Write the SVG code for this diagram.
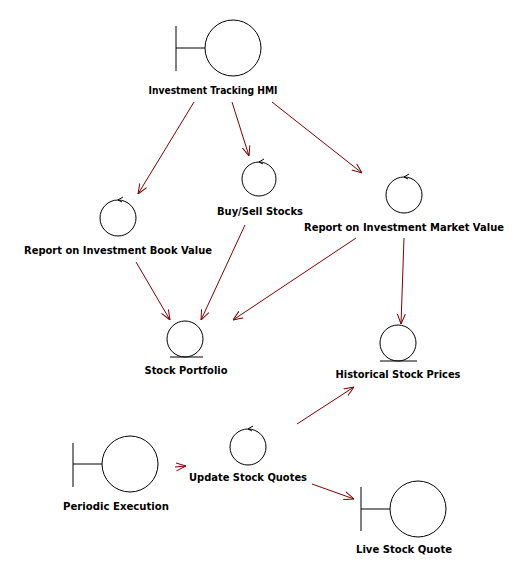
<svg xmlns="http://www.w3.org/2000/svg" width="529" height="582" viewBox="0 0 529 582">
<defs>
<style>
.sym{fill:none;stroke:#000;stroke-width:1}
.lbl{font-family:"DejaVu Sans","Liberation Sans",sans-serif;font-weight:bold;font-size:11px;fill:#000;text-anchor:middle}
.con{fill:none;stroke:#800000;stroke-width:1}
</style>
<marker id="arr" viewBox="0 0 10 10" refX="10" refY="5" markerWidth="10" markerHeight="10" markerUnits="userSpaceOnUse" orient="auto">
<path d="M0,1 L10,5 L0,9" fill="none" stroke="#800000" stroke-width="1"/>
</marker>
</defs>
<rect width="529" height="582" fill="#fff"/>
<g id="hmi">
<line class="sym" x1="176" y1="26" x2="176" y2="71"/>
<line class="sym" x1="176" y1="48" x2="205" y2="48"/>
<circle class="sym" cx="233" cy="48" r="28"/>
<text class="lbl" x="213" y="94" textLength="129" lengthAdjust="spacingAndGlyphs">Investment Tracking HMI</text>
</g>
<g id="bookvalue">
<circle class="sym" cx="118" cy="218" r="18"/>
<path class="sym" d="M123,197 L118,200 L122,202"/>
<text class="lbl" x="118" y="254" textLength="188" lengthAdjust="spacingAndGlyphs">Report on Investment Book Value</text>
</g>
<g id="buysell">
<circle class="sym" cx="259" cy="179" r="17"/>
<path class="sym" d="M264,159 L259,162 L263,164"/>
<text class="lbl" x="260" y="215" textLength="86" lengthAdjust="spacingAndGlyphs">Buy/Sell Stocks</text>
</g>
<g id="marketvalue">
<circle class="sym" cx="404" cy="195" r="18"/>
<path class="sym" d="M409,174 L404,177 L408,179"/>
<text class="lbl" x="404" y="231" textLength="200" lengthAdjust="spacingAndGlyphs">Report on Investment Market Value</text>
</g>
<g id="portfolio">
<circle class="sym" cx="185" cy="339" r="18"/>
<line class="sym" x1="170" y1="357" x2="203" y2="357"/>
<text class="lbl" x="186" y="374" textLength="83" lengthAdjust="spacingAndGlyphs">Stock Portfolio</text>
</g>
<g id="historical">
<circle class="sym" cx="398" cy="343" r="18"/>
<line class="sym" x1="380" y1="361" x2="417" y2="361"/>
<text class="lbl" x="398" y="378" textLength="125" lengthAdjust="spacingAndGlyphs">Historical Stock Prices</text>
</g>
<g id="update">
<circle class="sym" cx="248" cy="447" r="18"/>
<path class="sym" d="M253,426 L248,429 L252,431"/>
<text class="lbl" x="248" y="481" textLength="118" lengthAdjust="spacingAndGlyphs">Update Stock Quotes</text>
</g>
<g id="periodic">
<line class="sym" x1="73" y1="443" x2="73" y2="487"/>
<line class="sym" x1="73" y1="464" x2="102" y2="464"/>
<circle class="sym" cx="130" cy="464" r="28"/>
<text class="lbl" x="116" y="510" textLength="106" lengthAdjust="spacingAndGlyphs">Periodic Execution</text>
</g>
<g id="livequote">
<line class="sym" x1="361" y1="487" x2="361" y2="531"/>
<line class="sym" x1="361" y1="509" x2="390" y2="509"/>
<circle class="sym" cx="418" cy="509" r="28"/>
<text class="lbl" x="404" y="553" textLength="96" lengthAdjust="spacingAndGlyphs">Live Stock Quote</text>
</g>
<g id="connectors">
<line class="con" x1="194" y1="102" x2="138" y2="194" marker-end="url(#arr)"/>
<line class="con" x1="232" y1="102" x2="249" y2="156" marker-end="url(#arr)"/>
<line class="con" x1="272" y1="102" x2="362" y2="173" marker-end="url(#arr)"/>
<line class="con" x1="136" y1="262" x2="170" y2="320" marker-end="url(#arr)"/>
<line class="con" x1="245" y1="225" x2="201" y2="320" marker-end="url(#arr)"/>
<line class="con" x1="356" y1="238" x2="233" y2="320" marker-end="url(#arr)"/>
<line class="con" x1="404" y1="238" x2="401" y2="324" marker-end="url(#arr)"/>
<line class="con" x1="297" y1="424" x2="354" y2="387" marker-end="url(#arr)"/>
<line class="con" x1="175" y1="467" x2="186" y2="466" marker-end="url(#arr)"/>
<line class="con" x1="312" y1="484" x2="354" y2="499" marker-end="url(#arr)"/>
</g>
</svg>
